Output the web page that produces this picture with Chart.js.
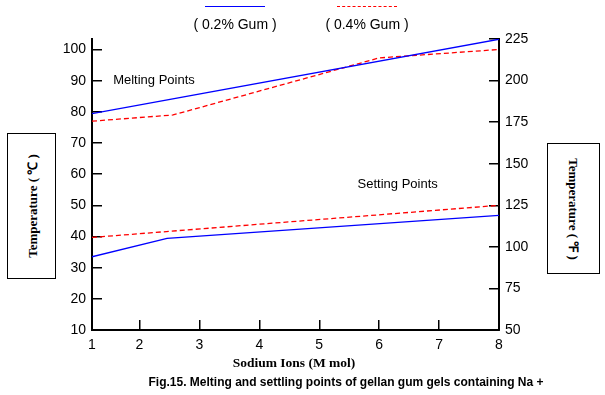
<!DOCTYPE html>
<html lang="en">
<head>
<meta charset="UTF-8">
<title>Melting and setting points</title>
<script src="https://cdn.jsdelivr.net/npm/chart.js"></script>
<style>
  body { margin: 0; background: #fff; }
  #wrap { position: relative; width: 605px; height: 395px; font-family: "Liberation Sans", Arial, sans-serif; }
  canvas { position: absolute; left: 0; top: 0; }
  .leg { position: absolute; top: 0; font-size: 14px; line-height: 16px; color: #000; text-align: center; white-space: nowrap; }
  .leg .ln { height: 0; margin: 6px auto 9px; width: 60px; }
  .box { position: absolute; border: 1px solid #000; background: #fff; }
  .vt { position: absolute; left: 50%; top: 50%; white-space: nowrap; font: bold 13px "Liberation Serif", "Times New Roman", serif; }
  #xtitle { position: absolute; left: 0; width: 588px; top: 355px; text-align: center; font: bold 13.5px "Liberation Serif", serif; }
  #cap { position: absolute; left: 0; width: 692px; top: 375px; text-align: center; font: bold 12px "Liberation Sans", Arial, sans-serif; }
</style>
</head>
<body>
<div id="wrap">
  <canvas id="c" width="605" height="395"></canvas>

  <div class="leg" style="left:190px;width:90px;"><div class="ln" style="border-top:1.5px solid #0000ff"></div>( 0.2% Gum )</div>
  <div class="leg" style="left:322px;width:90px;"><div class="ln" style="border-top:1.5px dashed #ff0000"></div>( 0.4% Gum )</div>

  <div class="box" style="left:7px;top:133px;width:47px;height:144px;">
    <div class="vt" style="transform:translate(-50%,-50%) rotate(-90deg);">Temperature ( ℃ )</div>
  </div>
  <div class="box" style="left:547px;top:143px;width:51px;height:129px;">
    <div class="vt" style="transform:translate(-50%,-50%) rotate(90deg);">Temperature ( ℉ )</div>
  </div>

  <div id="xtitle">Sodium Ions (M mol)</div>
  <div id="cap">Fig.15. Melting and settling points of gellan gum gels containing Na +</div>
</div>

<script>
// x values (Na+ concentration) and temperatures in °C
const meltX02 = [1.207, 8];
const melt02 = [79.4, 103.3];
const meltX04 = [1.207, 2.56, 6.0, 8];
const melt04 = [77.0, 79.0, 97.3, 100.0];
const setX02 = [1.207, 2.46, 8];
const set02 = [33.5, 39.4, 46.8];
const setX04 = [1.207, 8];
const set04 = [39.7, 50.0];

const xTicks = [1.207, 2, 3, 4, 5, 6, 7, 8];
const xTickLabels = ['1', '2', '3', '4', '5', '6', '7', '8'];
const celsiusTicks = [10, 20, 30, 40, 50, 60, 70, 80, 90, 100];

const notes = [
  { text: 'Melting Points', x: 1.56, y: 90.2 },
  { text: 'Setting Points', x: 5.64, y: 56.8 }
];

function pts(xs, ys) {
  return xs.map((x, i) => ({ x: x, y: ys[i] }));
}

const noteLabels = {
  id: 'noteLabels',
  afterDatasetsDraw(chart) {
    const ctx = chart.ctx;
    const sx = chart.scales.x, sy = chart.scales.y;
    ctx.save();
    ctx.font = '13px "Liberation Sans", Arial, sans-serif';
    ctx.fillStyle = '#000';
    ctx.textAlign = 'left';
    ctx.textBaseline = 'middle';
    notes.forEach(n => ctx.fillText(n.text, sx.getPixelForValue(n.x), sy.getPixelForValue(n.y)));
    ctx.restore();
  }
};

const tickFont = { family: '"Liberation Sans", Arial, sans-serif', size: 14 };
const axisGrid = { drawOnChartArea: false, color: '#000', lineWidth: 1.5, tickLength: -10 };
const axisBorder = { color: '#000', width: 2 };

new Chart(document.getElementById('c'), {
  type: 'line',
  data: {
    datasets: [
      { data: pts(meltX02, melt02), borderColor: '#0000ff', borderWidth: 1.3 },
      { data: pts(meltX04, melt04), borderColor: '#ff0000', borderWidth: 1.3, borderDash: [5, 3] },
      { data: pts(setX02, set02), borderColor: '#0000ff', borderWidth: 1.3 },
      { data: pts(setX04, set04), borderColor: '#ff0000', borderWidth: 1.3, borderDash: [5, 3] }
    ]
  },
  options: {
    responsive: false,
    animation: false,
    events: [],
    elements: { point: { radius: 0 }, line: { tension: 0 } },
    layout: { padding: { top: 39 } },
    plugins: { legend: { display: false }, tooltip: { enabled: false } },
    scales: {
      x: {
        type: 'linear', position: 'bottom', min: xTicks[0], max: 8,
        afterBuildTicks: s => { s.ticks = xTicks.map(v => ({ value: v })); },
        afterFit: s => { s.height = 65; },
        ticks: { color: '#000', font: tickFont, padding: 17, maxRotation: 0, autoSkip: false,
          callback: (v, i) => xTickLabels[i] },
        grid: axisGrid, border: axisBorder
      },
      y: {
        position: 'left', min: 10, max: 103.37,
        afterBuildTicks: s => { s.ticks = celsiusTicks.map(v => ({ value: v })); },
        afterFit: s => { s.width = 92; },
        ticks: { color: '#000', font: tickFont, padding: 16, autoSkip: false },
        grid: axisGrid, border: axisBorder
      },
      yF: {
        position: 'right', min: 50, max: 225,
        afterFit: s => { s.width = 106; },
        ticks: { color: '#000', font: tickFont, padding: 16, stepSize: 25 },
        grid: axisGrid, border: axisBorder
      }
    }
  },
  plugins: [noteLabels]
});
</script>
</body>
</html>
